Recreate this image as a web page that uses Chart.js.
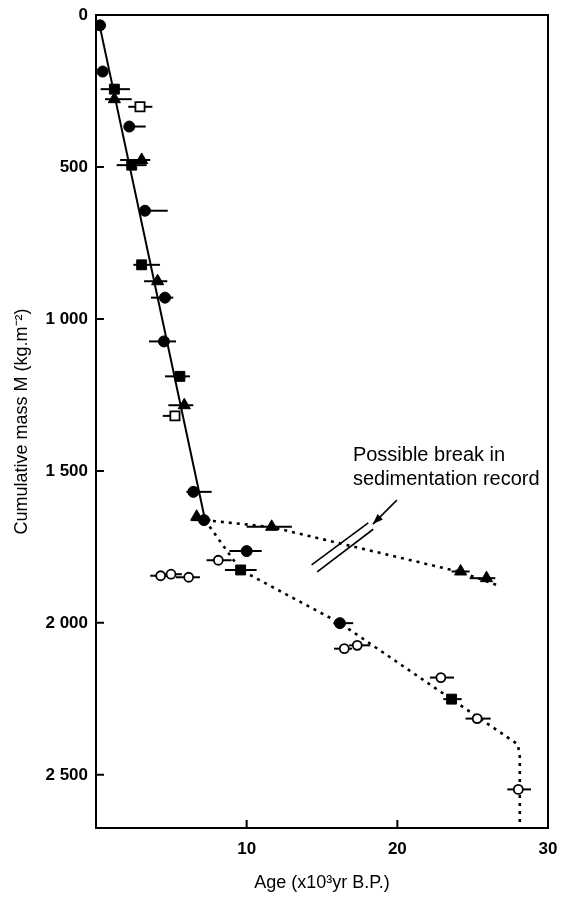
<!DOCTYPE html>
<html>
<head>
<meta charset="utf-8">
<script src="https://cdn.jsdelivr.net/npm/chart.js@4.4.1/dist/chart.umd.min.js"></script>
<style>
  html, body { margin: 0; padding: 0; background: #fff; }
  #wrap { width: 561px; height: 897px; position: relative; }
</style>
</head>
<body>
<div id="wrap"><canvas id="chart"></canvas></div>
<script>
// Age in 10^3 yr B.P., cumulative mass in kg/m2.
// ageLo / ageHi = ends of the horizontal age bars (null = no bar)

const fCircleAge  = [0.27, 0.44, 2.21, 3.25, 4.58, 4.51, 6.46, 7.17, 10.0, 16.19];
const fCircleMass = [34, 186, 367, 644, 930, 1074, 1569, 1662, 1764, 2001];
const fCircleLo   = [null, null, 1.9, 2.9, 3.65, 3.52, 6.0, 6.35, 8.85, 15.75];
const fCircleHi   = [null, null, 3.3, 4.76, 5.13, 5.31, 7.68, 7.6, 11.0, 17.07];

const fSquareAge  = [1.22, 2.37, 3.03, 5.57, 9.6, 23.6];
const fSquareMass = [244, 494, 822, 1189, 1826, 2251];
const fSquareLo   = [0.31, 1.37, 2.48, 4.58, 8.56, 23.05];
const fSquareHi   = [2.25, 3.36, 4.25, 6.24, 10.66, 24.27];

const fTriAge  = [1.22, 3.03, 4.09, 5.86, 6.68, 11.66, 24.2, 25.92];
const fTriMass = [277, 477, 876, 1284, 1651, 1684, 1831, 1853];
const fTriLo   = [0.6, 1.6, 3.19, 4.8, null, 10.0, 23.6, 24.8];
const fTriHi   = [2.37, 3.6, 4.73, 6.46, null, 13.0, 24.8, 26.5];

const oSquareAge  = [2.92, 5.24];
const oSquareMass = [302, 1319];
const oSquareLo   = [2.14, 4.43];
const oSquareHi   = [3.74, 5.57];

const oCircleAge  = [8.12, 4.29, 4.98, 6.15, 16.48, 17.34, 22.89, 25.3, 28.03];
const oCircleMass = [1794, 1845, 1840, 1850, 2085, 2074, 2180, 2315, 2548];
const oCircleLo   = [7.34, 3.6, 4.3, 5.3, 15.8, 16.8, 22.16, 24.53, 27.3];
const oCircleHi   = [9.0, 5.0, 5.7, 6.9, 17.0, 18.2, 23.76, 26.19, 28.87];

// fitted line and the two dotted continuations
const solidAge  = [0.2, 7.25];
const solidMass = [25, 1664];
const upperAge  = [7.23, 11.66, 24.2, 26.8];
const upperMass = [1662, 1685, 1833, 1879];
const lowerAge  = [7.23, 9.6, 16.2, 28.0, 28.13, 28.13];
const lowerMass = [1662, 1826, 2001, 2400, 2440, 2675];

// "break" marks, arrow and note
const breakA = [[14.31, 1809], [18.07, 1671]];
const breakB = [[14.68, 1832], [18.4, 1692]];
const arrow  = [[19.97, 1596], [18.38, 1675]];
const noteLines = ["Possible break in", "sedimentation record"];
const noteAge = 17.05;
const noteMass = [1448, 1527];

const xTicks = [10, 20, 30];
const yTicks = [0, 500, 1000, 1500, 2000, 2500];

const FONT = "'Liberation Sans', Arial, sans-serif";
const pts = (xs, ys) => xs.map((x, i) => ({ x, y: ys[i] }));
const fmt = (v) => String(v).replace(/\B(?=(\d{3})+$)/, " ");

function marker(label, xs, ys, lo, hi, style, filled, r) {
  return {
    type: "scatter", label, data: pts(xs, ys), errLo: lo, errHi: hi,
    pointStyle: style, pointRadius: r, pointHoverRadius: r,
    backgroundColor: filled ? "#000" : "#fff", borderColor: "#000",
    pointBorderWidth: filled ? 1 : 1.8, order: 0,
  };
}
function path(label, xs, ys, dash) {
  return {
    type: "line", label, data: pts(xs, ys), borderColor: "#000",
    borderWidth: dash ? 2.6 : 2, borderDash: dash || [], borderCapStyle: "butt",
    pointRadius: 0, tension: 0, fill: false, order: 2,
  };
}

// horizontal age bars under the markers
const errorBars = {
  id: "errorBars",
  beforeDatasetsDraw(chart) {
    const { ctx, scales: { x, y } } = chart;
    ctx.save();
    ctx.strokeStyle = "#000";
    ctx.lineWidth = 2;
    chart.data.datasets.forEach((ds) => {
      if (!ds.errLo) return;
      ds.data.forEach((p, i) => {
        if (ds.errLo[i] == null) return;
        const py = y.getPixelForValue(p.y);
        ctx.beginPath();
        ctx.moveTo(x.getPixelForValue(ds.errLo[i]), py);
        ctx.lineTo(x.getPixelForValue(ds.errHi[i]), py);
        ctx.stroke();
      });
    });
    ctx.restore();
  },
};

// box, inward ticks, break marks, arrow and note
const frame = {
  id: "frame",
  afterDraw(chart) {
    const { ctx, chartArea: a, scales: { x, y } } = chart;
    const P = (d) => [x.getPixelForValue(d[0]), y.getPixelForValue(d[1])];
    ctx.save();
    ctx.strokeStyle = "#000";
    ctx.lineWidth = 2;
    ctx.strokeRect(a.left, a.top, a.right - a.left, a.bottom - a.top);
    ctx.beginPath();
    xTicks.forEach((t) => {
      const px = x.getPixelForValue(t);
      ctx.moveTo(px, a.bottom); ctx.lineTo(px, a.bottom - 8);
    });
    yTicks.forEach((t) => {
      const py = y.getPixelForValue(t);
      ctx.moveTo(a.left, py); ctx.lineTo(a.left + 8, py);
    });
    ctx.stroke();

    ctx.lineWidth = 1.6;
    [breakA, breakB, arrow].forEach((seg) => {
      const [p0, p1] = [P(seg[0]), P(seg[1])];
      ctx.beginPath(); ctx.moveTo(p0[0], p0[1]); ctx.lineTo(p1[0], p1[1]); ctx.stroke();
    });
    // arrow head
    const [t0, t1] = [P(arrow[0]), P(arrow[1])];
    const ang = Math.atan2(t1[1] - t0[1], t1[0] - t0[0]);
    ctx.beginPath();
    ctx.moveTo(t1[0], t1[1]);
    ctx.lineTo(t1[0] - 11 * Math.cos(ang - 0.35), t1[1] - 11 * Math.sin(ang - 0.35));
    ctx.lineTo(t1[0] - 11 * Math.cos(ang + 0.35), t1[1] - 11 * Math.sin(ang + 0.35));
    ctx.closePath();
    ctx.fillStyle = "#000";
    ctx.fill();

    ctx.font = "20px " + FONT;
    ctx.textBaseline = "middle";
    ctx.textAlign = "left";
    noteLines.forEach((s, i) => ctx.fillText(s, x.getPixelForValue(noteAge), y.getPixelForValue(noteMass[i])));
    ctx.restore();
  },
};

new Chart(document.getElementById("chart"), {
  data: {
    datasets: [
      marker("filled circle", fCircleAge, fCircleMass, fCircleLo, fCircleHi, "circle", true, 5.5),
      marker("filled square", fSquareAge, fSquareMass, fSquareLo, fSquareHi, "rect", true, 7),
      marker("filled triangle", fTriAge, fTriMass, fTriLo, fTriHi, "triangle", true, 7),
      marker("open square", oSquareAge, oSquareMass, oSquareLo, oSquareHi, "rect", false, 6.5),
      marker("open circle", oCircleAge, oCircleMass, oCircleLo, oCircleHi, "circle", false, 4.5),
      path("fit", solidAge, solidMass),
      path("upper", upperAge, upperMass, [3, 5]),
      path("lower", lowerAge, lowerMass, [3, 5]),
    ],
  },
  options: {
    responsive: true, maintainAspectRatio: false, animation: false,
    layout: { padding: { left: 0, top: 15, right: 13, bottom: 0 } },
    plugins: { legend: { display: false }, tooltip: { enabled: false } },
    scales: {
      x: {
        type: "linear", position: "bottom", min: 0, max: 30,
        afterBuildTicks: (s) => { s.ticks = xTicks.map((v) => ({ value: v })); },
        afterFit: (s) => { s.height = 69; s.paddingLeft = 0; s.paddingRight = 0; },
        grid: { display: false, drawTicks: false }, border: { display: false },
        ticks: { color: "#000", padding: 11, font: { family: FONT, size: 17, weight: "bold" } },
        title: {
          display: true, text: "Age (x10³yr B.P.)", color: "#000",
          font: { family: FONT, size: 18 }, padding: { top: 0, bottom: 3 },
        },
      },
      y: {
        type: "linear", reverse: true, min: 0, max: 2675,
        afterBuildTicks: (s) => { s.ticks = yTicks.map((v) => ({ value: v })); },
        afterFit: (s) => { s.width = 96; s.paddingTop = 0; s.paddingBottom = 0; },
        grid: { display: false, drawTicks: false }, border: { display: false },
        ticks: { color: "#000", padding: 8, font: { family: FONT, size: 17, weight: "bold" }, callback: fmt },
        title: {
          display: true, text: "Cumulative mass M (kg.m⁻²)", color: "#000",
          font: { family: FONT, size: 18 }, padding: { top: 11, bottom: 0 },
        },
      },
    },
  },
  plugins: [errorBars, frame],
});
</script>
</body>
</html>
